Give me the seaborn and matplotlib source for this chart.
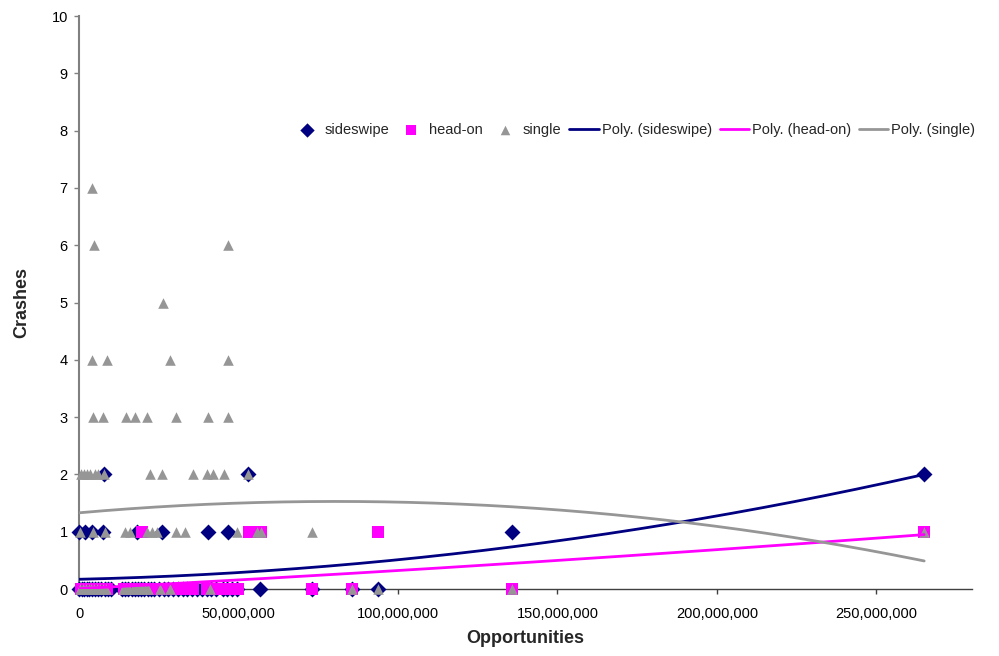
import numpy as np
import pandas as pd
import matplotlib
matplotlib.use("Agg")
import matplotlib.pyplot as plt
from matplotlib.ticker import FuncFormatter
import seaborn as sns

# Opportunities are given in millions; crashes are counts per site.
sideswipe_x = [7.8, 53.0, 265.0,
               0.0, 1.9, 4.1, 7.5, 18.2, 26.0, 40.4, 46.7, 135.7,
               0.0, 0.8, 1.6, 2.4, 3.2, 4.0, 5.0, 6.0, 7.0, 8.0, 9.0, 10.0,
               13.5, 14.5, 15.5, 16.5, 17.5, 18.5, 19.5, 20.5, 21.5, 22.5, 23.5,
               25.0, 26.5, 28.0, 29.5, 31.0, 32.5, 34.0, 35.5, 37.0, 38.5, 40.0,
               41.5, 43.0, 45.0, 46.5, 48.0, 49.5, 56.7, 73.0, 85.6, 93.7]
sideswipe_y = [2, 2, 2,
               1, 1, 1, 1, 1, 1, 1, 1, 1,
               0, 0, 0, 0, 0, 0, 0, 0, 0, 0, 0, 0,
               0, 0, 0, 0, 0, 0, 0, 0, 0, 0, 0,
               0, 0, 0, 0, 0, 0, 0, 0, 0, 0, 0,
               0, 0, 0, 0, 0, 0, 0, 0, 0, 0]

headon_x = [19.7, 53.3, 57.0, 93.7, 265.0,
            0.5, 1.2, 2.0, 2.8, 3.6, 4.4, 5.2, 6.0, 6.8, 7.6, 8.3, 8.9,
            14.2, 15.0, 16.0, 17.0, 18.0, 19.0, 20.0, 21.0, 22.0, 23.0, 24.0,
            25.0, 26.0, 27.0, 28.0, 29.0, 30.0, 31.0, 32.0, 33.0, 34.0, 35.0,
            35.6, 40.1, 41.0, 41.7, 45.5, 46.5, 47.5, 48.5, 49.9, 73.0, 85.6, 135.7]
headon_y = [1, 1, 1, 1, 1,
            0, 0, 0, 0, 0, 0, 0, 0, 0, 0, 0, 0,
            0, 0, 0, 0, 0, 0, 0, 0, 0, 0, 0,
            0, 0, 0, 0, 0, 0, 0, 0, 0, 0, 0,
            0, 0, 0, 0, 0, 0, 0, 0, 0, 0, 0, 0]

single_x = [4.1,
            4.7, 46.7,
            26.3,
            4.1, 8.8, 28.5, 46.7,
            4.4, 7.5, 14.7, 17.6, 21.3, 30.4, 40.4, 46.7,
            0.5, 1.5, 2.5, 3.5, 5.0, 6.0, 7.8, 22.3, 26.0, 35.7, 40.1, 42.0, 45.5, 53.0,
            0.4, 4.4, 8.2, 14.4, 16.0, 21.3, 22.8, 24.4, 30.4, 33.2, 49.6, 55.8, 57.0, 73.0, 265.0,
            0.3, 1.2, 2.1, 3.0, 3.9, 4.8, 5.7, 6.6, 7.5, 8.4, 13.8, 14.8, 15.8,
            16.8, 17.8, 18.8, 19.8, 20.8, 21.6, 25.4, 28.5, 41.0, 85.6, 93.7, 135.7]
single_y = [7,
            6, 6,
            5,
            4, 4, 4, 4,
            3, 3, 3, 3, 3, 3, 3, 3,
            2, 2, 2, 2, 2, 2, 2, 2, 2, 2, 2, 2, 2, 2,
            1, 1, 1, 1, 1, 1, 1, 1, 1, 1, 1, 1, 1, 1, 1,
            0, 0, 0, 0, 0, 0, 0, 0, 0, 0, 0, 0, 0,
            0, 0, 0, 0, 0, 0, 0, 0, 0, 0, 0, 0]

# Second-order trendline coefficients (x in millions): a*x^2 + b*x + c
sideswipe_poly = [2.119e-5, 1.289e-3, 0.17]
headon_poly = [2.43e-6, 2.915e-3, 0.0068]
single_poly = [-3.053e-5, 4.92e-3, 1.33]

x_ticks = [0, 50, 100, 150, 200, 250]
y_ticks = list(range(0, 11))

NAVY = "#000080"
MAGENTA = "#FF00FF"
GRAY = "#969696"

sns.set_style("white")
plt.rcParams["font.family"] = ["Liberation Sans", "DejaVu Sans"]

fig = plt.figure(figsize=(9.99, 6.56), dpi=100)
ax = fig.add_axes([0.0791, 0.1021, 0.8939, 0.8735])

M = 1e6
df_side = pd.DataFrame({"x": np.array(sideswipe_x) * M, "y": sideswipe_y})
df_head = pd.DataFrame({"x": np.array(headon_x) * M, "y": headon_y})
df_single = pd.DataFrame({"x": np.array(single_x) * M, "y": single_y})

sns.scatterplot(data=df_side, x="x", y="y", ax=ax, marker="D", s=66,
                color=NAVY, linewidth=0, label="sideswipe", clip_on=False, zorder=3)
sns.scatterplot(data=df_head, x="x", y="y", ax=ax, marker="s", s=66,
                color=MAGENTA, linewidth=0, label="head-on", clip_on=False, zorder=4)
sns.scatterplot(data=df_single, x="x", y="y", ax=ax, marker="^", s=58,
                color=GRAY, linewidth=0, label="single", clip_on=False, zorder=5)

# Trendlines span the observed range of opportunities
def trend_frame(xs, coeffs):
    grid = np.linspace(0, max(xs), 300)
    return pd.DataFrame({"x": grid * M, "y": np.polyval(coeffs, grid)})

for xs, coeffs, col, name in [
    (sideswipe_x, sideswipe_poly, NAVY, "Poly. (sideswipe)"),
    (headon_x, headon_poly, MAGENTA, "Poly. (head-on)"),
    (single_x, single_poly, GRAY, "Poly. (single)"),
]:
    sns.lineplot(data=trend_frame(xs, coeffs), x="x", y="y", ax=ax, color=col,
                 linewidth=2.0, label=name, zorder=6, estimator=None, sort=False)

ax.set_xlim(0, 280 * M)
ax.set_ylim(0, 10)
ax.set_xticks([t * M for t in x_ticks])
ax.set_yticks(y_ticks)
ax.xaxis.set_major_formatter(FuncFormatter(lambda v, p: f"{v:,.0f}"))

for side in ("top", "right"):
    ax.spines[side].set_visible(False)
ax.spines["left"].set_color("#808080")
ax.spines["left"].set_linewidth(1.5)
ax.spines["bottom"].set_color("#404040")
ax.spines["bottom"].set_linewidth(1.0)
ax.spines["bottom"].set_zorder(2)

ax.tick_params(axis="x", direction="out", length=3.6, width=1.0, color="#404040",
               pad=9, labelsize=10.5, labelcolor="black")
ax.tick_params(axis="y", direction="out", length=3.6, width=1.0, color="#808080",
               pad=4.5, labelsize=10.5, labelcolor="black")
ax.xaxis.set_ticks_position("bottom")
ax.yaxis.set_ticks_position("left")

ax.set_xlabel("Opportunities", fontsize=13, fontweight="bold")
ax.set_ylabel("Crashes", fontsize=13, fontweight="bold")
ax.xaxis.set_label_coords(0.5, -0.071)
ax.yaxis.set_label_coords(-0.055, 0.5)
ax.grid(False)

handles, labels = ax.get_legend_handles_labels()
ax.legend(handles, labels, loc="center left", bbox_to_anchor=(292 / 999, 1 - 130 / 656),
          bbox_transform=fig.transFigure, ncol=6, frameon=False, fontsize=10.5,
          handlelength=2.0, handletextpad=0.2, columnspacing=0.55,
          borderpad=0, borderaxespad=0, markerscale=0.9)

fig.savefig("out.png", dpi=100)
